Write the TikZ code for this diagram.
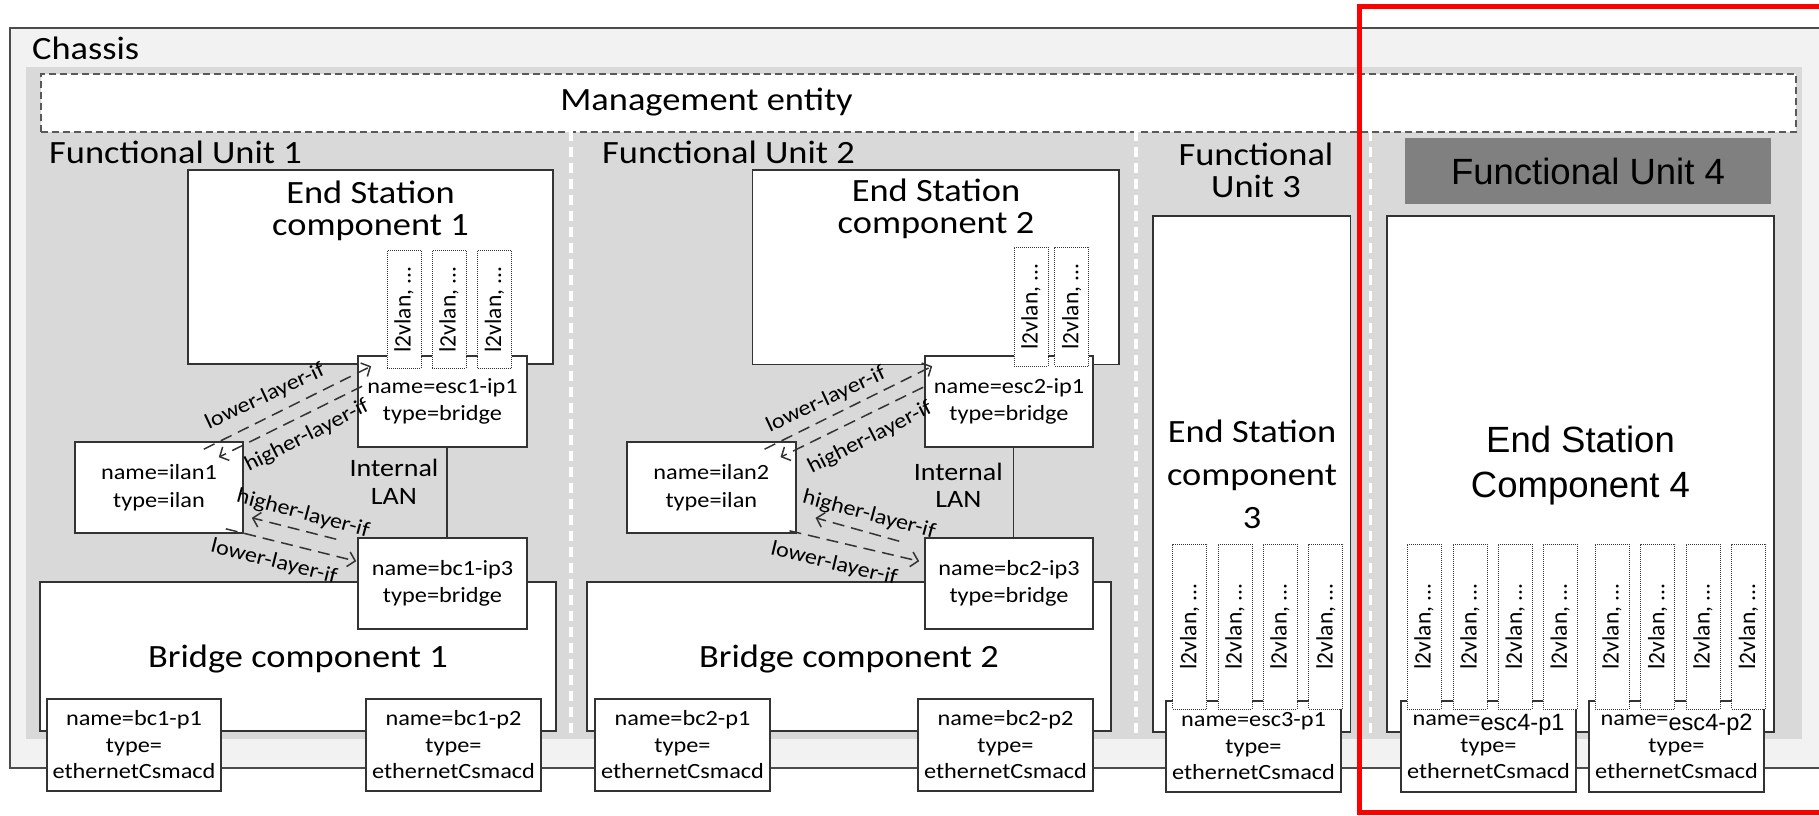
\documentclass[tikz,border=0pt]{standalone}
\usepackage{fontspec}
\setmainfont{Carlito}[FakeStretch=1.12]
\newfontfamily\plainfont{Carlito}
\newfontfamily\arialfont{Liberation Sans}
\usepackage{graphicx}
\usetikzlibrary{arrows.meta,calc}
\definecolor{chassisbg}{HTML}{F2F2F2}
\definecolor{unitbg}{HTML}{D9D9D9}
\definecolor{hdrgray}{HTML}{808080}
\definecolor{edge}{HTML}{333333}
\begin{document}
\begin{tikzpicture}[x=1pt,y=-1pt,
  box/.style={draw=edge,fill=white,line width=1.6pt,inner sep=0pt,align=center},
  twoline/.style={font=\fontsize{21.7}{27.5}\selectfont},
  threeline/.style={font=\fontsize{21.7}{26.5}\selectfont},
  vlanbox/.style={draw=edge,fill=white,densely dotted,line width=1pt,inner sep=0pt,minimum width=34pt,font=\plainfont\fontsize{23.5}{24}\selectfont},
  ttl/.style={align=center,anchor=base,inner sep=0pt,font=\fontsize{32.5}{32}\selectfont},
  lbl/.style={inner sep=0pt,font=\fontsize{21.5}{22}\selectfont},
  dasharrow/.style={draw=edge,line width=1.5pt,dash pattern=on 12pt off 7pt,-{Straight Barb[length=7pt,width=15pt]}},
  fusep/.style={draw=white,line width=3.5pt,dash pattern=on 10pt off 6pt},
  lanline/.style={draw=edge,line width=1.6pt},
]
\useasboundingbox (0,0) rectangle (1819,815);
\clip (0,0) rectangle (1819,815);

% chassis
\node[draw=black!70,fill=chassisbg,line width=2pt,inner sep=0pt,anchor=north west,
      minimum width=1835pt,minimum height=740.5pt] (chassis) at (8.7,26.5) {};
\node[anchor=base west,inner sep=0pt,font=\fontsize{32.5}{32}\selectfont] (chassislbl) at (32,59) {Chassis};
\node[fill=unitbg,inner sep=0pt,anchor=north west,minimum width=1775.8pt,minimum height=672pt] (units) at (25.7,67) {};

% management entity
\node[draw=black!65,fill=white,dashed,dash pattern=on 7pt off 4pt,line width=1.5pt,inner sep=0pt,
      anchor=north west,minimum width=1755pt,minimum height=58pt] (mgmt) at (40,73) {};
\node[anchor=base,inner sep=0pt,font=\fontsize{32.5}{32}\selectfont] (mgmtlbl) at (706.5,110) {Management entity};

% separators
\coordinate (s1t) at (571,131); \coordinate (s1b) at (571,739);
\coordinate (s2t) at (1136,131); \coordinate (s2b) at (1136,739);
\coordinate (s3t) at (1370.6,131); \coordinate (s3b) at (1370.6,739);
\draw[fusep] (s1t) -- (s1b);
\draw[fusep] (s2t) -- (s2b);
\draw[fusep] (s3t) -- (s3b);

% functional unit labels
\node[anchor=base west,inner sep=0pt,font=\fontsize{32.5}{32}\selectfont] (fu1) at (49,163) {Functional Unit 1};
\node[anchor=base west,inner sep=0pt,font=\fontsize{32.5}{32}\selectfont] (fu2) at (602,163) {Functional Unit 2};
\node[ttl] (fu3) at (1256,197) {Functional\\Unit 3};
\node[fill=hdrgray,inner sep=0pt,minimum width=366pt,minimum height=66pt,
      font=\arialfont\fontsize{36.5}{36}\selectfont] (fu4) at (1588,171) {Functional Unit 4};

% end station components
\node[box,minimum width=365pt,minimum height=194pt] (esc1) at (370.5,267) {};
\node[ttl] (esc1lbl) at (370.5,235) {End Station\\component 1};
\node[box,minimum width=366.5pt,minimum height=194.5pt] (esc2) at (935.75,267.25) {};
\node[ttl] (esc2lbl) at (936,233.5) {End Station\\component 2};
\node[box,minimum width=197.5pt,minimum height=516pt] (esc3) at (1251.75,474) {};
\node[ttl,font=\fontsize{32.5}{43}\selectfont] (esc3lbl) at (1252,528.3) {End Station\\component\\3};
\node[box,minimum width=387pt,minimum height=516pt] (esc4) at (1580.5,474) {};
\node[ttl,font=\arialfont\fontsize{36.5}{45}\selectfont] (esc4lbl) at (1580.5,497.7) {End Station\\Component 4};

% bridge components
\node[box,minimum width=516pt,minimum height=149pt] (br1) at (298,656.5) {};
\node[ttl] (br1lbl) at (298,667) {Bridge component 1};
\node[box,minimum width=524pt,minimum height=149pt] (br2) at (849,656.5) {};
\node[ttl] (br2lbl) at (849,667) {Bridge component 2};

% internal ports
\node[box,twoline,minimum width=169pt,minimum height=91pt] (esc1ip1) at (442.5,401.5) {name=esc1-ip1\\type=bridge};
\node[box,twoline,minimum width=168pt,minimum height=91pt] (esc2ip1) at (1009,401.5) {name=esc2-ip1\\type=bridge};
\node[box,twoline,minimum width=168pt,minimum height=91pt] (ilan1) at (159,487.5) {name=ilan1\\type=ilan};
\node[box,twoline,minimum width=168.7pt,minimum height=91pt] (ilan2) at (711.35,487.5) {name=ilan2\\type=ilan};
\node[box,twoline,minimum width=169pt,minimum height=91pt] (bc1ip3) at (442.5,583.5) {name=bc1-ip3\\type=bridge};
\node[box,twoline,minimum width=168pt,minimum height=91pt] (bc2ip3) at (1009,583.5) {name=bc2-ip3\\type=bridge};

% internal LANs
\draw[lanline] ([xshift=4.5pt]esc1ip1.south) -- ([xshift=4.5pt]bc1ip3.north);
\draw[lanline] ([xshift=4.3pt]esc2ip1.south) -- ([xshift=4.3pt]bc2ip3.north);
\node[ttl,font=\fontsize{25}{27.5}\selectfont] (lan1) at (394,504) {Internal\\LAN};
\node[ttl,font=\fontsize{25}{27.5}\selectfont] (lan2) at (958.3,507.5) {Internal\\LAN};

% layer arrows FU1
\draw[dasharrow] ($(ilan1.north east)+(-40,8)$) -- ($(esc1ip1.north west)+(14,11)$);
\draw[dasharrow] ($(esc1ip1.north west)+(5,31)$) -- ($(ilan1.north east)+(-25,16)$);
\draw[dasharrow] ($(bc1ip3.north west)+(-21,2)$) -- ($(ilan1.south east)+(8,-16)$);
\draw[dasharrow] ($(ilan1.south east)+(-18,-5)$) -- ($(bc1ip3.north west)+(-1,24)$);
\node[lbl,rotate=25] (l1a) at (265,397) {lower-layer-if};
\node[lbl,rotate=27] (l1b) at (307,436) {higher-layer-if};
\node[lbl,rotate=-15] (l1c) at (303,514) {higher-layer-if};
\node[lbl,rotate=-14] (l1d) at (274,562) {lower-layer-if};

% layer arrows FU2
\draw[dasharrow] ($(ilan2.north east)+(-32,8)$) -- ($(esc2ip1.north west)+(8,11)$);
\draw[dasharrow] ($(esc2ip1.north west)+(-1,32)$) -- ($(ilan2.north east)+(-16,16)$);
\draw[dasharrow] ($(bc2ip3.north west)+(-25,4)$) -- ($(ilan2.south east)+(19,-16)$);
\draw[dasharrow] ($(ilan2.south east)+(-7,-3)$) -- ($(bc2ip3.north west)+(-5,24)$);
\node[lbl,rotate=25] (l2a) at (826,400) {lower-layer-if};
\node[lbl,rotate=27] (l2b) at (870,438) {higher-layer-if};
\node[lbl,rotate=-15] (l2c) at (869,515) {higher-layer-if};
\node[lbl,rotate=-13.5] (l2d) at (834,564) {lower-layer-if};

% external ports
\node[box,threeline,minimum width=174pt,minimum height=92pt] (bc1p1) at (134,745) {name=bc1-p1\\type=\\ethernetCsmacd};
\node[box,threeline,minimum width=175pt,minimum height=92pt] (bc1p2) at (453.5,745) {name=bc1-p2\\type=\\ethernetCsmacd};
\node[box,threeline,minimum width=175pt,minimum height=92pt] (bc2p1) at (682.5,745) {name=bc2-p1\\type=\\ethernetCsmacd};
\node[box,threeline,minimum width=175pt,minimum height=92pt] (bc2p2) at (1005.5,745) {name=bc2-p2\\type=\\ethernetCsmacd};
\node[box,threeline,minimum width=175pt,minimum height=91pt] (esc3p1) at (1253.5,746.5) {name=esc3-p1\\type=\\ethernetCsmacd};
\node[box,threeline,minimum width=175pt,minimum height=91pt] (esc4p1) at (1488.5,746.5)
  {name=\raisebox{-5pt}{\arialfont\fontsize{23.6}{24}\selectfont esc4-p1}\\type=\\ethernetCsmacd};
\node[box,threeline,minimum width=175pt,minimum height=91pt] (esc4p2) at (1676.5,746.5)
  {name=\raisebox{-5pt}{\arialfont\fontsize{23.6}{24}\selectfont esc4-p2}\\type=\\ethernetCsmacd};

% l2vlan interfaces
\foreach \x [count=\i] in {404,449,494.5}
  \node[vlanbox,minimum height=117.6pt] (va\i) at (\x,309.5) {\rotatebox{90}{l2vlan, ...}};
\foreach \x [count=\i] in {1031,1071.75}
  \node[vlanbox,minimum height=119pt] (vb\i) at (\x,306.5) {\rotatebox{90}{l2vlan, ...}};
\foreach \x [count=\i] in {1189.6,1235,1280,1325.85}
  \node[vlanbox,minimum height=165pt] (vc\i) at (\x,626.5) {\rotatebox{90}{l2vlan, ...}};
\foreach \x [count=\i] in {1424,1470,1515.25,1560.25,1612,1657.65,1703,1748.55}
  \node[vlanbox,minimum height=165pt] (vd\i) at (\x,626.5) {\rotatebox{90}{l2vlan, ...}};

% highlight
\draw[red,line width=5pt] (1359,6) rectangle (1850,812);
\end{tikzpicture}
\end{document}
